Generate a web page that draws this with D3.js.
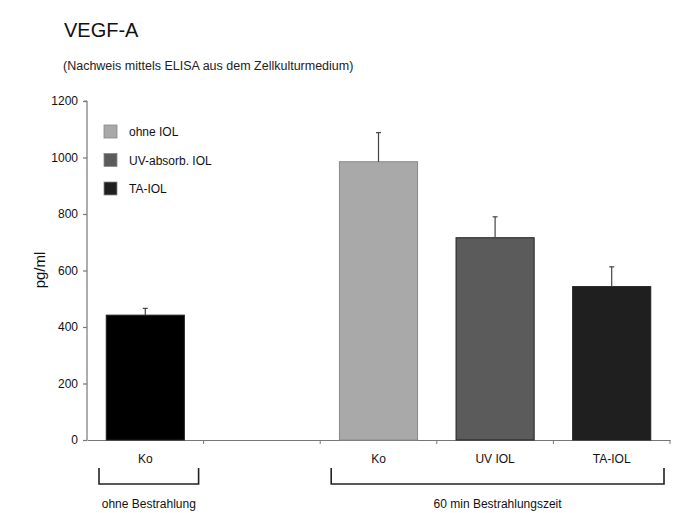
<!DOCTYPE html>
<html><head><meta charset="utf-8">
<script src="https://cdn.jsdelivr.net/npm/d3@7"></script>
<style>body{margin:0;background:#fff}svg{display:block;font-family:"Liberation Sans",Arial,sans-serif}</style>
</head><body><svg id="c" width="681" height="513"></svg>
<script>
const categories = ["g1","gap","g2","g3","g4"];
const tickLabels = ["Ko","","Ko","UV IOL","TA-IOL"];
const barCats = ["g1","g2","g3","g4"];
const values = [442, 985, 716, 543];
const errors = [24, 103, 74, 70];
const barColors = ["#000000","#a9a9a9","#5b5b5b","#1f1f1f"];
const legendLabels = ["ohne IOL","UV-absorb. IOL","TA-IOL"];
const legendColors = ["#a9a9a9","#5b5b5b","#1f1f1f"];
const yTicks = [0,200,400,600,800,1000,1200];
const groups = [{label:"ohne Bestrahlung", from:"g1", to:"g1"},{label:"60 min Bestrahlungszeit", from:"g2", to:"g4"}];

const svg = d3.select("#c");
const x = d3.scaleBand().domain(categories).range([87,670]).paddingInner(0).paddingOuter(0);
const y = d3.scaleLinear().domain([0,1200]).range([440,101]);

svg.append("text").attr("x",64).attr("y",37).attr("font-size",20).attr("fill","#111").text("VEGF-A");
svg.append("text").attr("x",63).attr("y",70).attr("font-size",12.5).attr("fill","#222").text("(Nachweis mittels ELISA aus dem Zellkulturmedium)");

// y axis
const ya = svg.append("g").attr("transform","translate(87,0)").call(d3.axisLeft(y).tickValues(yTicks).tickFormat(d3.format("d")).tickSize(4).tickPadding(5));
ya.selectAll("path,line").attr("stroke","#777").attr("stroke-width",1.2);
ya.selectAll("text").attr("font-size",12).attr("fill","#111").attr("font-family","Liberation Sans, Arial, sans-serif");
ya.select(".domain").attr("d","M0,440V101M0,101H-3");

svg.append("text").attr("transform","translate(45,270) rotate(-90)").attr("text-anchor","middle").attr("font-size",15).attr("fill","#111").text("pg/ml");

// x axis
const xa = svg.append("g").attr("transform","translate(0,440)").call(d3.axisBottom(x).tickSize(0).tickFormat((d,i)=>tickLabels[i]).tickPadding(14));
xa.select(".domain").attr("stroke","#777").attr("stroke-width",1.2);
xa.selectAll("text").attr("font-size",12).attr("fill","#111").attr("font-family","Liberation Sans, Arial, sans-serif");
const bounds = categories.map(c=>x(c)+x.bandwidth()).slice(0,4);
svg.append("g").selectAll("line").data(bounds).join("line")
  .attr("x1",d=>d).attr("x2",d=>d).attr("y1",440).attr("y2",444).attr("stroke","#777").attr("stroke-width",1);
svg.append("line").attr("x1",670).attr("x2",670).attr("y1",440).attr("y2",444).attr("stroke","#777");

// bars
const bw = x.bandwidth()*0.67;
const bars = barCats.map((c,i)=>({c,v:values[i],e:errors[i],col:barColors[i]}));
svg.append("g").selectAll("rect").data(bars).join("rect")
  .attr("x",d=>x(d.c)+(x.bandwidth()-bw)/2).attr("width",bw)
  .attr("y",d=>y(d.v)).attr("height",d=>y(0)-y(d.v))
  .attr("fill",d=>d.col).attr("stroke",(d,i)=>i===1?"#888":"#222").attr("stroke-width",1);
const eg = svg.append("g").attr("stroke","#444").attr("stroke-width",1.2);
bars.forEach(d=>{
  const cx = x(d.c)+x.bandwidth()/2;
  eg.append("line").attr("x1",cx).attr("x2",cx).attr("y1",y(d.v)).attr("y2",y(d.v+d.e));
  eg.append("line").attr("x1",cx-2.5).attr("x2",cx+2.5).attr("y1",y(d.v+d.e)).attr("y2",y(d.v+d.e));
});

// legend
const lg = svg.append("g");
legendLabels.forEach((l,i)=>{
  const yy = 125 + i*28.5;
  lg.append("rect").attr("x",104).attr("y",yy).attr("width",13).attr("height",13).attr("fill",legendColors[i]).attr("stroke","#888").attr("stroke-width",0.8);
  lg.append("text").attr("x",129).attr("y",yy+11).attr("font-size",12).attr("fill","#111").text(l);
});

// group brackets
groups.forEach(g=>{
  const xs = g.from===g.to ? [x(g.from)+12, x(g.from)+x.bandwidth()-5] : [x(g.from)+11, x(g.to)+x.bandwidth()-6];
  svg.append("path").attr("d",`M${xs[0]},468V484H${xs[1]}V468`).attr("fill","none").attr("stroke","#222").attr("stroke-width",1.6);
  svg.append("text").attr("x",(xs[0]+xs[1])/2).attr("y",508).attr("text-anchor","middle").attr("font-size",12).attr("fill","#111").text(g.label);
});
</script></body></html>
